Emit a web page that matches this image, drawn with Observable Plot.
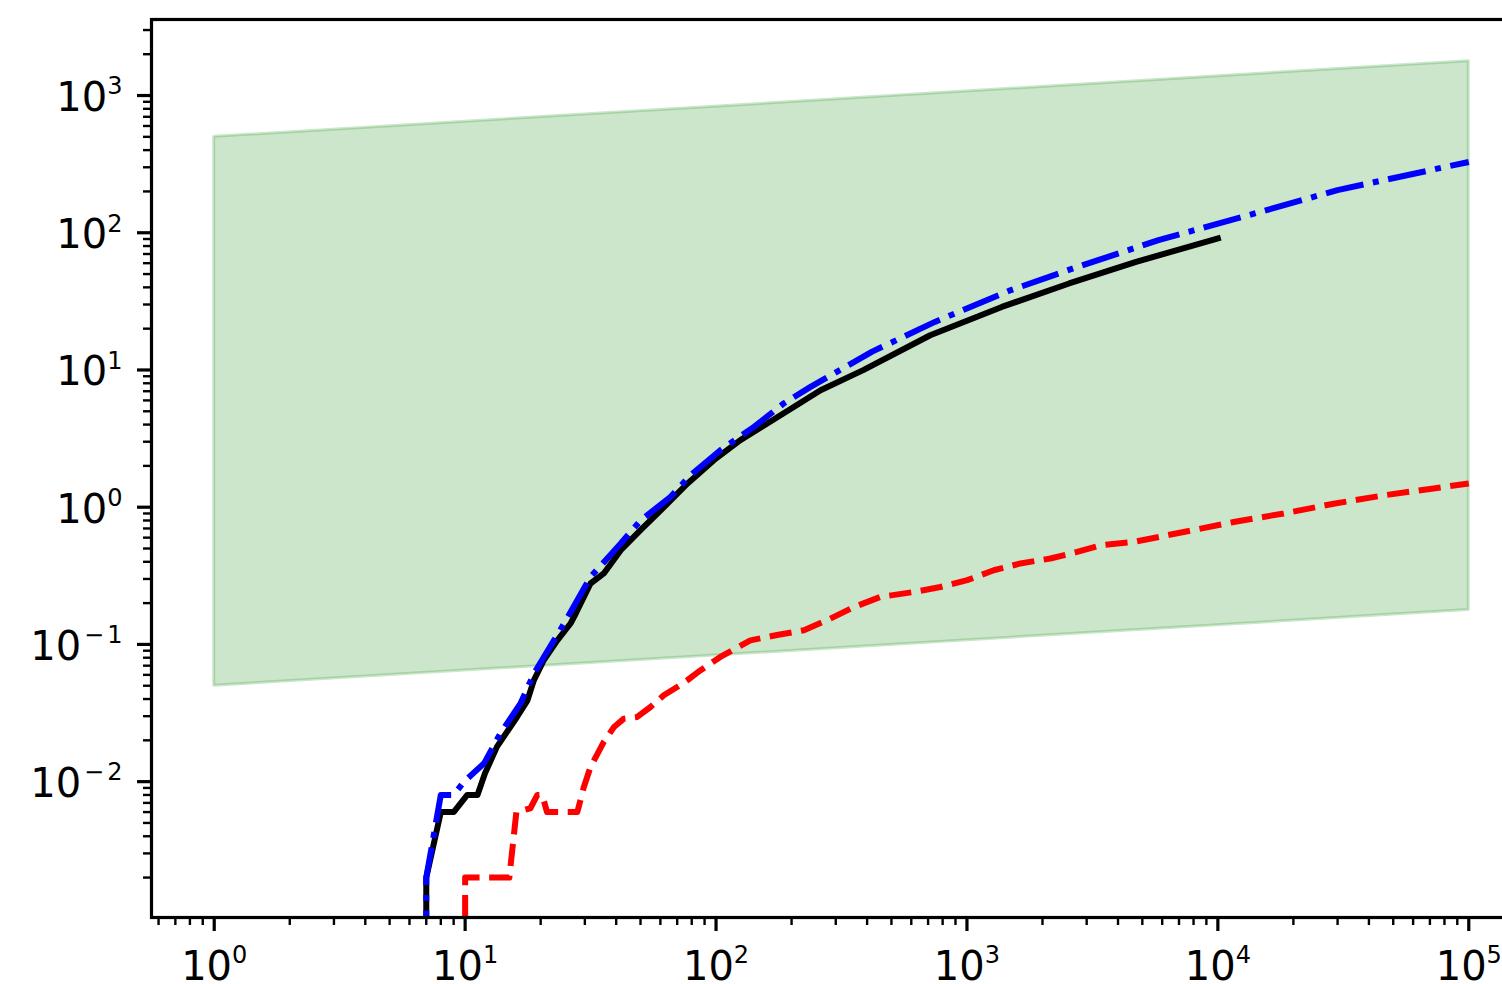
<!DOCTYPE html>
<html>
<head>
<meta charset="utf-8">
<script src="https://cdn.jsdelivr.net/npm/d3@7"></script>
<script src="https://cdn.jsdelivr.net/npm/@observablehq/plot@0.6"></script>
<style>
  html, body { margin: 0; padding: 0; background: #fff; }
  #chart svg { display: block; }
</style>
</head>
<body>
<div id="chart"></div>
<script>
// ---- data ----
const bandX    = [1, 100000];
const bandLow  = [0.05, 0.178];
const bandHigh = [500, 1780];

const blackX = [7, 7, 8, 9, 10.2, 11.2, 12, 13.4, 16.1, 17.7, 18.8, 20.6, 23.3, 26.3, 27.6, 31.6, 35.7, 41.7, 50, 62, 77, 98, 125, 160, 204, 261, 386, 714, 1377, 2553, 4722, 10000];
const blackY = [1e-6, 0.002, 0.006, 0.006, 0.008, 0.008, 0.0115, 0.018, 0.0296, 0.039, 0.055, 0.077, 0.107, 0.142, 0.168, 0.278, 0.329, 0.486, 0.68, 1.0, 1.49, 2.2, 3.08, 4.07, 5.38, 7.12, 9.97, 17.9, 28.8, 42.7, 61.4, 90.8];

const blueX = [7, 7, 8, 9, 9.9, 11.9, 13.8, 16.6, 18.8, 22.6, 24.8, 31.6, 41.7, 50, 65.9, 79.1, 104, 141.6, 186, 238, 419, 745, 1497, 2768, 5800, 13190, 29980, 100000];
const blueY = [1e-6, 0.002, 0.008, 0.008, 0.01, 0.0136, 0.0224, 0.037, 0.0613, 0.107, 0.142, 0.31, 0.544, 0.80, 1.19, 1.71, 2.6, 3.85, 5.7, 7.53, 13.6, 22.4, 38.2, 56.5, 88.3, 134, 204.6, 328];

const redX = [10, 10, 15, 16, 18.2, 19.4, 20.3, 21.2, 28, 29.7, 31.6, 35.7, 39.2, 42.9, 48.5, 54.8, 61.9, 70, 76.8, 86.8, 104, 137, 175, 224, 277, 354, 452, 614, 784, 1002, 1279, 1633, 2151, 2748, 3404, 4620, 7310, 11560, 18290, 28900, 45800, 72400, 100000];
const redY = [1e-6, 0.002, 0.002, 0.006, 0.0064, 0.008, 0.008, 0.006, 0.006, 0.0091, 0.0128, 0.0195, 0.025, 0.0288, 0.0296, 0.035, 0.0426, 0.049, 0.0548, 0.0649, 0.081, 0.107, 0.117, 0.127, 0.15, 0.187, 0.222, 0.241, 0.262, 0.294, 0.347, 0.389, 0.423, 0.472, 0.528, 0.558, 0.66, 0.78, 0.9, 1.06, 1.22, 1.37, 1.49];

const majorX = [1, 10, 100, 1000, 10000, 100000];
const majorY = [0.01, 0.1, 1, 10, 100, 1000];
const minorX = [];
for (let e = -1; e <= 4; e++) for (let m = 2; m <= 9; m++) minorX.push(m * 10 ** e);
const minorY = [];
for (let e = -3; e <= 3; e++) for (let m = 2; m <= 9; m++) minorY.push(m * 10 ** e);

// ---- build tables ----
const zip = (xs, ys) => xs.map((x, i) => ({x, y: ys[i]}));
const band = bandX.map((x, i) => ({x, lo: bandLow[i], hi: bandHigh[i]}));
const black = zip(blackX, blackY);
const blue = zip(blueX, blueY);
const red = zip(redX, redY);

const xDomain = [10 ** -0.25, 10 ** 5.25];
const yDomain = [10 ** -2.99, 10 ** 3.554];
const xMinor = minorX.filter(v => v > xDomain[0] && v < xDomain[1]);
const yMinor = minorY.filter(v => v > yDomain[0] && v < yDomain[1]);

const fmt = d => {
  const e = Math.round(Math.log10(d));
  return "10^" + (e < 0 ? "\u2212" + (-e) : String(e));
};

const chart = Plot.plot({
  width: 1502,
  height: 984,
  marginLeft: 151,
  marginRight: -29,
  marginTop: 19,
  marginBottom: 67,
  style: {fontFamily: "DejaVu Sans", fontSize: "40px", color: "#000", background: "#fff"},
  x: {type: "log", domain: xDomain, label: null},
  y: {type: "log", domain: yDomain, label: null},
  marks: [
    Plot.areaY(band, {x: "x", y1: "lo", y2: "hi", fill: "green", fillOpacity: 0.2, stroke: "green", strokeOpacity: 0.2, strokeWidth: 3}),
    Plot.line(black, {x: "x", y: "y", stroke: "#000", strokeWidth: 6, strokeLinecap: "square", strokeLinejoin: "round", clip: true}),
    Plot.line(blue, {x: "x", y: "y", stroke: "#0000ff", strokeWidth: 6, strokeDasharray: "38.4,9.6,6,9.6", strokeLinecap: "butt", strokeLinejoin: "round", clip: true}),
    Plot.line(red, {x: "x", y: "y", stroke: "#ff0000", strokeWidth: 6, strokeDasharray: "22.2,9.6", strokeLinecap: "butt", strokeLinejoin: "round", clip: true}),
    Plot.axisX(xMinor, {tickSize: 8, strokeWidth: 2.4, tickFormat: () => ""}),
    Plot.axisY(yMinor, {tickSize: 8, strokeWidth: 2.4, tickFormat: () => ""}),
    Plot.axisX(majorX, {tickSize: 14, tickPadding: 20, strokeWidth: 3.2, tickFormat: fmt, fontSize: 40}),
    Plot.axisY(majorY, {tickSize: 14, tickPadding: 15, strokeWidth: 3.2, tickFormat: fmt, fontSize: 40}),
    Plot.frame({stroke: "#000", strokeWidth: 3.2})
  ]
});

// render exponents as superscripts
d3.select(chart).selectAll("text").each(function () {
  const s = this.textContent;
  if (!s.includes("^")) return;
  const [b, e] = s.split("^");
  const isY = this.closest('g[aria-label="y-axis tick label"]') !== null;
  const t = d3.select(this);
  t.text(null);
  t.append("tspan").attr("dy", isY ? 2.5 : 0).text(b);
  if (e.startsWith("\u2212")) {
    t.append("tspan").attr("dx", 3).attr("dy", -16.5).attr("font-size", 24).text("\u2212");
    t.append("tspan").attr("dx", 3).attr("font-size", 24).text(e.slice(1));
  } else {
    t.append("tspan").attr("dy", -16.5).attr("font-size", 24).text(e);
  }
});

document.getElementById("chart").appendChild(chart);
</script>
</body>
</html>
